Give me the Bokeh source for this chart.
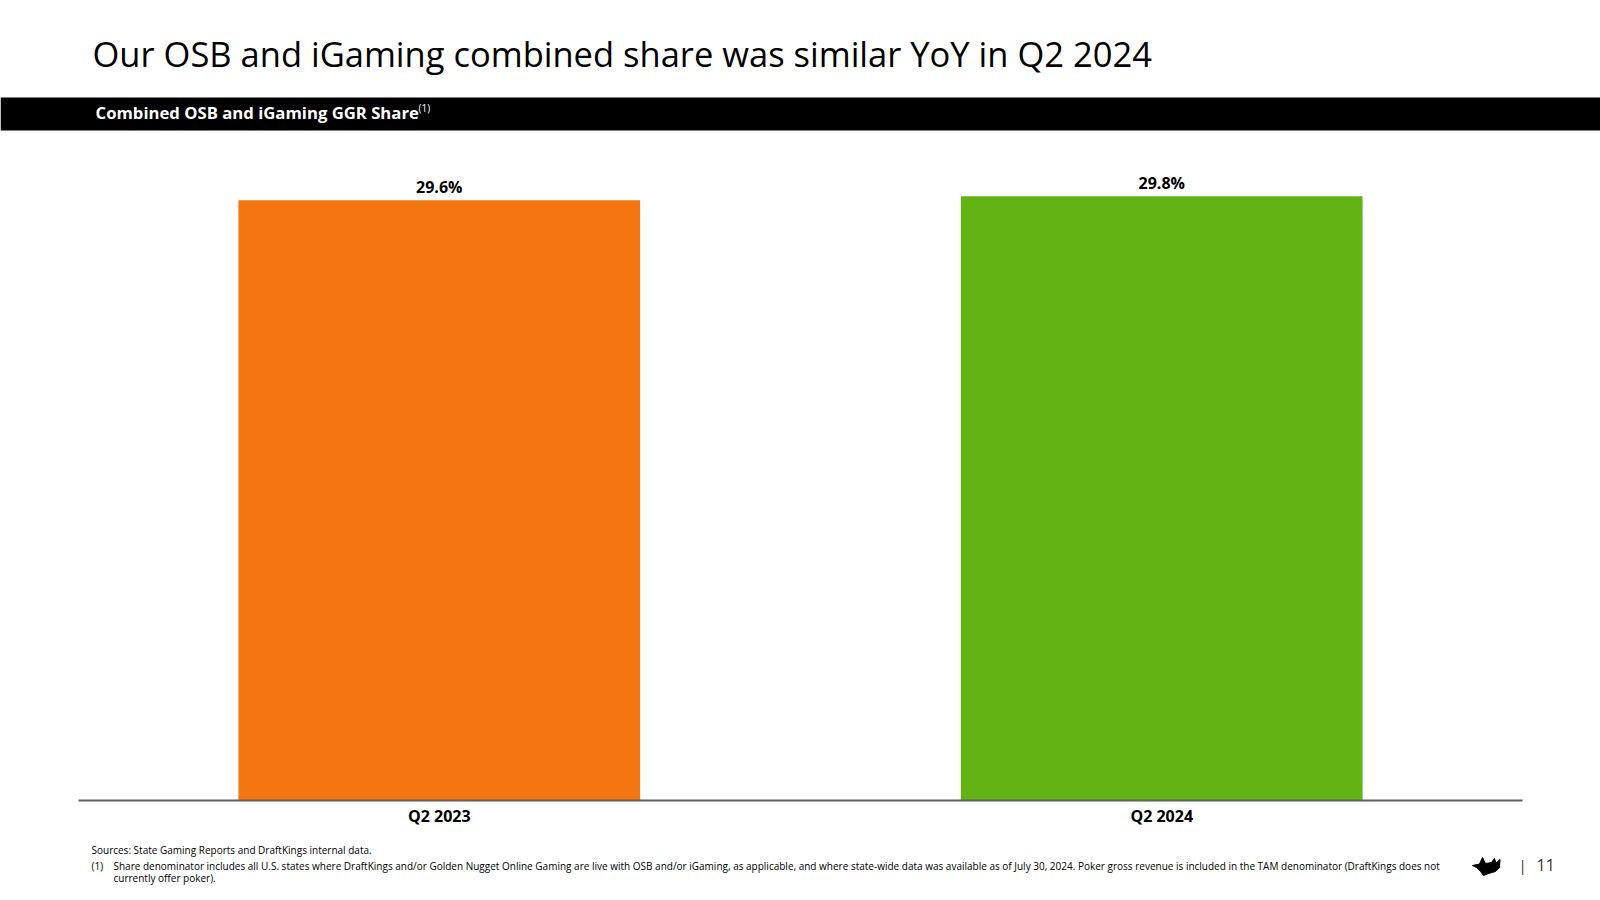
from bokeh.plotting import figure
from bokeh.layouts import column
from bokeh.models import Range1d, FactorRange, Label, ColumnDataSource
from bokeh.core.properties import value
from bokeh.embed import file_html
from bokeh.resources import INLINE

# ---- data ----
categories = ["Q2 2023", "Q2 2024"]
shares = [29.6, 29.8]
bar_colors = ["#F47611", "#62B414"]
share_labels = ["29.6%", "29.8%"]

title_text = "Our OSB and iGaming combined share was similar YoY in Q2 2024"
header_text = "Combined OSB and iGaming GGR Share"
source_text = "Sources: State Gaming Reports and DraftKings internal data."
note_lines = [
    "Share denominator includes all U.S. states where DraftKings and/or Golden Nugget Online Gaming are live with OSB and/or iGaming, as applicable, and where state-wide data was available as of July 30, 2024. Poker gross revenue is included in the TAM denominator (DraftKings does not",
    "currently offer poker).",
]
page_number = "11"

W = 1600
FONT = "Open Sans"


def bare(p):
    p.title.visible = False
    p.xaxis.visible = False
    p.yaxis.visible = False
    p.xgrid.visible = False
    p.ygrid.visible = False
    p.outline_line_color = None
    p.min_border = 0
    p.background_fill_color = "white"
    p.border_fill_color = "white"


# ---- top: title and black header band ----
TOP_H = 140
top = figure(width=W, height=TOP_H, x_range=Range1d(0, W), y_range=Range1d(0, TOP_H),
             output_backend="svg", toolbar_location=None)
bare(top)
top.quad(left=[0], right=[W], bottom=[10], top=[43], color="black", line_color=None)
top.add_layout(Label(x=92, y=87, text=title_text, text_font=FONT, text_font_size="34.5px",
                     text_color="black", text_baseline="alphabetic"))
top.add_layout(Label(x=95, y=28, text=header_text, text_font=FONT, text_font_size="16.7px",
                     text_font_style="bold", text_color="white", text_baseline="alphabetic"))
top.add_layout(Label(x=418, y=33, text="(1)", text_font=FONT, text_font_size="10px",
                     text_color="white", text_baseline="alphabetic"))

# ---- middle: bar chart ----
MID_H = 700
src = ColumnDataSource(dict(cat=categories, val=shares, color=bar_colors, lab=share_labels))
mid = figure(width=W, height=MID_H,
             x_range=FactorRange(*categories, range_padding=0.1073, range_padding_units="absolute"),
             y_range=Range1d(0, 32.55), output_backend="svg", toolbar_location=None)
mid.title.visible = False
mid.xgrid.visible = False
mid.ygrid.visible = False
mid.yaxis.visible = False
mid.outline_line_color = None
mid.background_fill_color = "white"
mid.border_fill_color = "white"
mid.min_border_left = 0
mid.min_border_right = 0
mid.min_border_top = 0
mid.min_border_bottom = 40
mid.vbar(x="cat", top="val", width=0.556, color="color", line_color=None, source=src)
mid.text(x="cat", y="val", text="lab", source=src, text_align="center", text_baseline="alphabetic",
         y_offset=-13, text_font=value(FONT), text_font_size="16px", text_font_style="bold",
         text_color="black")
ax = mid.xaxis[0]
ax.bounds = (0, 2)
ax.axis_line_color = "#5f5f5f"
ax.axis_line_width = 2
ax.major_tick_line_color = None
ax.minor_tick_line_color = None
ax.major_label_text_font = FONT
ax.major_label_text_font_size = "16px"
ax.major_label_text_font_style = "bold"
ax.major_label_text_color = "black"
ax.major_label_standoff = -2
ax.major_label_orientation = "horizontal"

# ---- bottom: footnotes, logo, page number ----
BOT_H = 58
bot = figure(width=W, height=BOT_H, x_range=Range1d(0, W), y_range=Range1d(0, BOT_H),
             output_backend="svg", toolbar_location=None)
bare(bot)
bot.add_layout(Label(x=91, y=49, text=source_text, text_font=FONT, text_font_size="10px",
                     text_color="black", text_baseline="middle"))
bot.add_layout(Label(x=91, y=33, text="(1)", text_font=FONT, text_font_size="10px",
                     text_color="black", text_baseline="middle"))
bot.add_layout(Label(x=113, y=33, text=note_lines[0], text_font=FONT, text_font_size="10px",
                     text_color="black", text_baseline="middle"))
bot.add_layout(Label(x=113, y=20.5, text=note_lines[1], text_font=FONT, text_font_size="10px",
                     text_color="black", text_baseline="middle"))
# crown logo (decorative)
crown_x = [1472, 1479, 1482, 1485, 1491, 1494, 1495.5, 1499.5, 1499, 1495, 1488, 1483, 1480, 1476]
crown_y = [33, 34.5, 41, 35, 36, 40, 35.5, 39, 31, 27, 25, 23, 27, 31]
bot.patch(crown_x, crown_y, color="black", line_color="black")
bot.add_layout(Label(x=1518, y=34, text="|", text_font=FONT, text_font_size="15px",
                     text_color="#333333", text_baseline="middle"))
bot.add_layout(Label(x=1536, y=34, text=page_number, text_font=FONT, text_font_size="16px",
                     text_color="#333333", text_baseline="middle"))

layout = column(top, mid, bot, spacing=0)
open("out.html", "w").write(file_html(layout, INLINE))
